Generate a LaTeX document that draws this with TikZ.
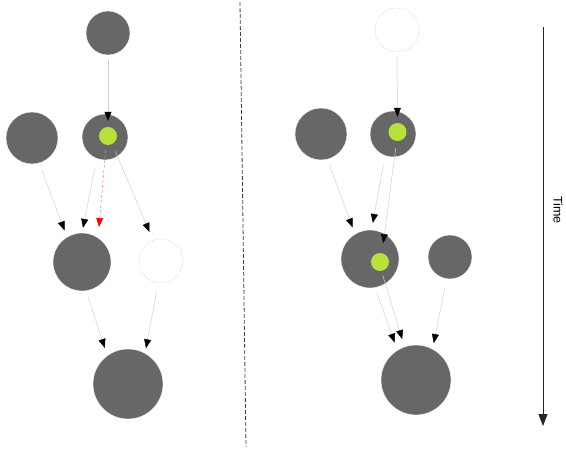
\documentclass[tikz,border=0pt]{standalone}
\usepackage{fontspec}
\setmainfont{Liberation Sans}
\usetikzlibrary{arrows.meta}

\definecolor{blobgray}{RGB}{103,103,103}
\definecolor{seedgreen}{RGB}{183,225,59}
\definecolor{linkgray}{RGB}{208,208,208}

\begin{document}
\begin{tikzpicture}[x=1pt, y=-1pt,
  blob/.style={circle, fill=blobgray, draw=white, line width=0.4pt, inner sep=0pt, minimum size=#1},
  ghost/.style={circle, draw=black!16, dash pattern=on 2pt off 1.5pt, line width=0.5pt, inner sep=0pt, minimum size=#1},
  seed/.style={circle, fill=seedgreen, inner sep=0pt, minimum size=18pt},
  link/.style={draw=linkgray, line width=0.5pt, -{Triangle[length=9pt,width=7pt,color=black]}},
  redlink/.style={draw=red!50, dash pattern=on 3pt off 2pt, line width=0.5pt, -{Triangle[length=9pt,width=7pt,color=red]}}
]

  \useasboundingbox (0,0) rectangle (566,452);

  % left side
  \node[blob=44pt] (A) at (108,33) {};
  \node[blob=52pt] (B) at (32,138) {};
  \node[blob=46pt] (C) at (105,137) {};
  \node[seed] (Cs) at (108,136) {};
  \node[blob=58pt] (D) at (82,262) {};
  \node[ghost=44pt] (E) at (161,261) {};
  \node[blob=70pt] (F) at (128,384) {};
  \coordinate (Cend) at (99,227);

  \draw[link, shorten <=5pt, shorten >=6pt] (A.south) -- (Cs.north);
  \draw[link, shorten <=7pt, shorten >=7pt] (B.286) -- (D.121);
  \draw[link, shorten <=10pt, shorten >=5pt] (C.249) -- (D.north);
  \draw[redlink, shorten <=5pt] (Cs.258) -- (Cend);
  \draw[link, shorten <=8pt, shorten >=9pt] (Cs.-62) -- (E.111);
  \draw[link, shorten <=6pt, shorten >=8pt] (D.278) -- (F.126);
  \draw[link, shorten <=9pt, shorten >=5pt] (E.263) -- (F.61);

  % divider
  \coordinate (divtop) at (240,2);
  \coordinate (divbot) at (246,447);
  \draw[black!75, line width=0.8pt, dash pattern=on 4pt off 2pt] (divtop) -- (divbot);

  % right side
  \node[ghost=44pt] (G) at (397,30) {};
  \node[blob=52pt] (H) at (321,134) {};
  \node[blob=46pt] (I) at (393,134) {};
  \node[seed] (Is) at (397.5,132) {};
  \node[blob=58pt] (J) at (370,259) {};
  \node[seed] (Js) at (380,262) {};
  \node[blob=44pt] (K) at (450,257) {};
  \node[blob=70pt] (L) at (416,380) {};

  \draw[link, shorten <=4pt, shorten >=6pt] (G.south) -- (Is.north);
  \draw[link, shorten <=7pt, shorten >=7pt] (H.284) -- (J.121);
  \draw[link, shorten <=9pt, shorten >=7pt] (I.250) -- (J.87);
  \draw[link, shorten <=7pt, shorten >=10pt] (Is.265) -- (Js.78);
  \draw[link, shorten <=5.5pt, shorten >=8pt] (J.280) -- (L.122);
  \draw[link, shorten <=4pt, shorten >=8pt] (Js.279) -- (L.109);
  \draw[link, shorten <=9pt, shorten >=6pt] (K.261) -- (L.62);

  % time axis
  \coordinate (ttop) at (543,27);
  \coordinate (tbot) at (543,426);
  \draw[black!85, line width=0.8pt, -{Triangle[length=12pt,width=9pt]}] (ttop) -- (tbot);
  \node[rotate=-90, font=\fontsize{12.5}{15}\selectfont] (tlabel) at (558,210) {Time};

\end{tikzpicture}
\end{document}
